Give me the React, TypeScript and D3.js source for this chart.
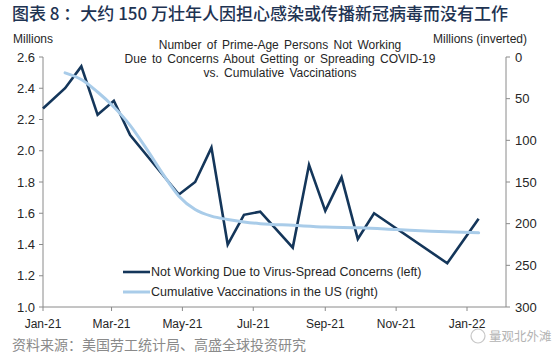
import * as d3 from "d3";
import { useEffect, useRef } from "react";

/* -----------------------------
   Data
----------------------------- */

// Not working due to virus-spread concerns, millions (left axis)
const notWorkingDates = [
  "2021-01-01", "2021-01-20", "2021-02-03", "2021-02-17", "2021-03-03",
  "2021-03-17", "2021-04-28", "2021-05-12", "2021-05-26", "2021-06-09",
  "2021-06-23", "2021-07-07", "2021-08-04", "2021-08-18", "2021-09-01",
  "2021-09-15", "2021-09-29", "2021-10-13", "2021-12-15", "2022-01-11",
];
const notWorkingValues = [
  2.27, 2.4, 2.54, 2.23, 2.32, 2.1, 1.72, 1.8, 2.02, 1.4,
  1.59, 1.61, 1.38, 1.91, 1.615, 1.83, 1.435, 1.6, 1.28, 1.565,
];

// Cumulative vaccinations, millions (right axis, inverted)
const vaxDates = [
  "2021-01-20", "2021-02-03", "2021-02-17", "2021-03-03", "2021-03-17",
  "2021-03-31", "2021-04-14", "2021-04-28", "2021-05-12", "2021-05-26",
  "2021-06-09", "2021-06-23", "2021-07-07", "2021-08-04", "2021-09-01",
  "2021-10-01", "2021-11-01", "2021-12-01", "2022-01-11",
];
const vaxValues = [
  19, 27, 42, 60, 82, 110, 140, 167, 183, 191,
  195, 198, 200, 202, 204, 205, 207, 209, 211,
];

const leftTicks = [1.0, 1.2, 1.4, 1.6, 1.8, 2.0, 2.2, 2.4, 2.6];
const rightTicks = [0, 50, 100, 150, 200, 250, 300];
const xTickDates = [
  "2021-01-01", "2021-03-01", "2021-05-01", "2021-07-01",
  "2021-09-01", "2021-11-01", "2022-01-01",
];

const titleLines = [
  "Number of Prime-Age Persons Not Working",
  "Due to Concerns About Getting or Spreading COVID-19",
  "vs. Cumulative Vaccinations",
];

const legendItems = [
  { label: "Not Working Due to Virus-Spread Concerns (left)", color: "#14365a" },
  { label: "Cumulative Vaccinations in the US (right)", color: "#a9cce9" },
];

/* -----------------------------
   Component
----------------------------- */

export default function App() {
  const ref = useRef<SVGSVGElement>(null);

  useEffect(() => {
    if (!ref.current) return;
    const svg = d3.select(ref.current);
    svg.selectAll("*").remove();

    const width = 554;
    const height = 354;
    const left = 43;
    const right = 506;
    const top = 57;
    const bottom = 307;
    const font = "Arial, 'Liberation Sans', sans-serif";
    const axisColor = "#8a8a8a";
    const textColor = "#262626";

    svg.attr("width", width).attr("height", height);
    svg.append("rect").attr("width", width).attr("height", height).attr("fill", "white");

    const parse = d3.timeParse("%Y-%m-%d");

    const x = d3
      .scaleTime()
      .domain([parse("2021-01-01")!, parse("2022-01-01")!])
      .range([left, 467]);
    const yLeft = d3.scaleLinear().domain([1.0, 2.6]).range([bottom, top]);
    const yRight = d3.scaleLinear().domain([0, 300]).range([top, bottom]);

    // Chinese heading
    svg
      .append("text")
      .attr("x", 12)
      .attr("y", 20)
      .style("font-family", "'Noto Sans CJK SC', sans-serif")
      .style("font-size", "17px")
      .style("font-weight", "500")
      .attr("fill", "#1e3352")
      .text("图表 8 ：大约 150 万壮年人因担心感染或传播新冠病毒而没有工作");

    // Chart title
    svg
      .append("g")
      .selectAll("text")
      .data(titleLines)
      .join("text")
      .attr("x", 280)
      .attr("y", (_, i) => 49 + i * 14)
      .attr("text-anchor", "middle")
      .style("font-family", font)
      .style("font-size", "12px")
      .style("word-spacing", "2px")
      .attr("fill", textColor)
      .text((d) => d);

    // Axis captions
    svg
      .append("text")
      .attr("x", 33)
      .attr("y", 43)
      .attr("text-anchor", "middle")
      .style("font-family", font)
      .style("font-size", "12px")
      .attr("fill", textColor)
      .text("Millions");
    svg
      .append("text")
      .attr("x", 527)
      .attr("y", 43)
      .attr("text-anchor", "end")
      .style("font-family", font)
      .style("font-size", "12px")
      .attr("fill", textColor)
      .text("Millions (inverted)");

    // Axis lines
    const axes = svg.append("g").attr("stroke", axisColor).attr("stroke-width", 1);
    axes.append("line").attr("x1", left).attr("x2", left).attr("y1", top).attr("y2", bottom);
    axes.append("line").attr("x1", right).attr("x2", right).attr("y1", top).attr("y2", bottom);
    axes.append("line").attr("x1", left).attr("x2", right).attr("y1", bottom).attr("y2", bottom);

    // Left ticks
    axes
      .selectAll("line.lt")
      .data(leftTicks)
      .join("line")
      .attr("class", "lt")
      .attr("x1", left - 4)
      .attr("x2", left)
      .attr("y1", (d) => yLeft(d))
      .attr("y2", (d) => yLeft(d));
    svg
      .append("g")
      .selectAll("text")
      .data(leftTicks)
      .join("text")
      .attr("x", 35)
      .attr("y", (d) => yLeft(d))
      .attr("dy", "0.35em")
      .attr("text-anchor", "end")
      .style("font-family", font)
      .style("font-size", "13px")
      .attr("fill", textColor)
      .text((d) => d.toFixed(1));

    // Right ticks
    axes
      .selectAll("line.rt")
      .data(rightTicks)
      .join("line")
      .attr("class", "rt")
      .attr("x1", right)
      .attr("x2", right + 4)
      .attr("y1", (d) => yRight(d))
      .attr("y2", (d) => yRight(d));
    svg
      .append("g")
      .selectAll("text")
      .data(rightTicks)
      .join("text")
      .attr("x", 515)
      .attr("y", (d) => yRight(d))
      .attr("dy", "0.35em")
      .style("font-family", font)
      .style("font-size", "13px")
      .attr("fill", textColor)
      .text((d) => String(d));

    // X ticks
    const fmt = d3.timeFormat("%b-%y");
    axes
      .selectAll("line.xt")
      .data(xTickDates)
      .join("line")
      .attr("class", "xt")
      .attr("x1", (d) => x(parse(d)!))
      .attr("x2", (d) => x(parse(d)!))
      .attr("y1", bottom)
      .attr("y2", bottom + 4);
    svg
      .append("g")
      .selectAll("text")
      .data(xTickDates)
      .join("text")
      .attr("x", (d) => x(parse(d)!))
      .attr("y", 328)
      .attr("text-anchor", "middle")
      .style("font-family", font)
      .style("font-size", "12px")
      .attr("fill", textColor)
      .text((d) => fmt(parse(d)!));

    // Lines
    const notWorking = notWorkingDates.map((d, i) => ({ date: parse(d)!, value: notWorkingValues[i] }));
    const vax = vaxDates.map((d, i) => ({ date: parse(d)!, value: vaxValues[i] }));

    const lineLeft = d3
      .line<{ date: Date; value: number }>()
      .x((d) => x(d.date))
      .y((d) => yLeft(d.value));
    const lineRight = d3
      .line<{ date: Date; value: number }>()
      .x((d) => x(d.date))
      .y((d) => yRight(d.value))
      .curve(d3.curveMonotoneX);

    svg
      .append("path")
      .attr("d", lineLeft(notWorking))
      .attr("fill", "none")
      .attr("stroke", legendItems[0].color)
      .attr("stroke-width", 2.6)
      .attr("stroke-linejoin", "miter");
    svg
      .append("path")
      .attr("d", lineRight(vax))
      .attr("fill", "none")
      .attr("stroke", legendItems[1].color)
      .attr("stroke-width", 3)
      .attr("stroke-linecap", "round");

    // Legend
    const legend = svg
      .append("g")
      .selectAll("g")
      .data(legendItems)
      .join("g")
      .attr("transform", (_, i) => `translate(123,${272 + i * 20})`);
    legend
      .append("line")
      .attr("x1", 0)
      .attr("x2", 27)
      .attr("stroke", (d) => d.color)
      .attr("stroke-width", (_, i) => (i === 0 ? 2.6 : 3));
    legend
      .append("text")
      .attr("x", 28)
      .attr("dy", "0.35em")
      .style("font-family", font)
      .style("font-size", "12.5px")
      .attr("fill", textColor)
      .text((d) => d.label);

    // Source note
    svg
      .append("text")
      .attr("x", 12)
      .attr("y", 350)
      .style("font-family", "'Noto Sans CJK SC', sans-serif")
      .style("font-size", "14px")
      .attr("fill", "#8a8a8a")
      .text("资料来源：美国劳工统计局、高盛全球投资研究");

    // Watermark
    const wm = svg.append("g").attr("opacity", 0.75);
    wm.append("circle").attr("cx", 478).attr("cy", 336).attr("r", 7)
      .attr("fill", "none").attr("stroke", "#b5b5b5").attr("stroke-width", 1.2);
    wm.append("text")
      .attr("x", 489)
      .attr("y", 341)
      .style("font-family", "'Noto Sans CJK SC', sans-serif")
      .style("font-size", "12.5px")
      .attr("fill", "#9a9a9a")
      .text("量观北外滩");
  }, []);

  return (
    <div style={{ position: "fixed", left: 0, top: 0 }}>
      <svg ref={ref} style={{ display: "block" }} />
    </div>
  );
}
